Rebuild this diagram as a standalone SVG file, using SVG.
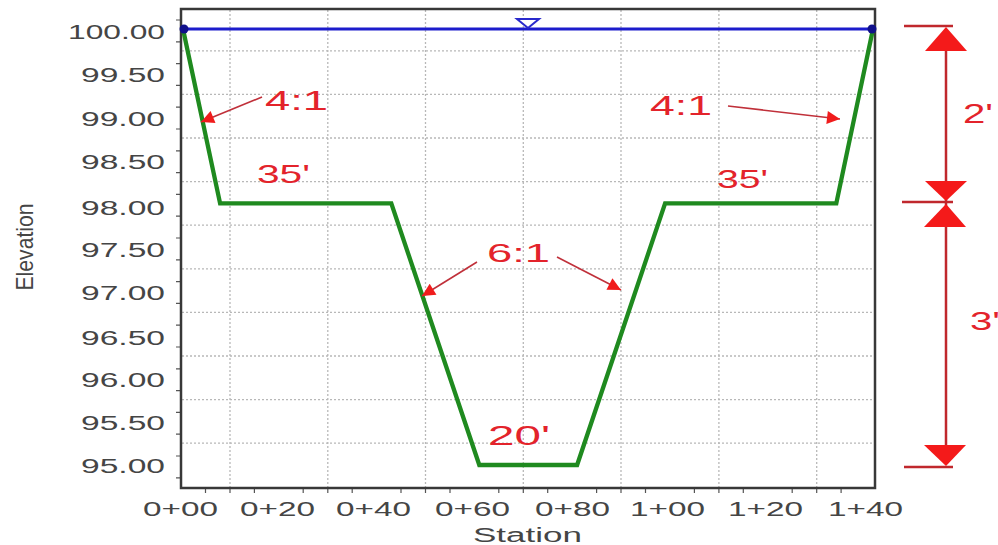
<svg xmlns="http://www.w3.org/2000/svg" width="998" height="545" viewBox="0 0 998 545">
<style>
.grid{stroke:#b8b8b8;stroke-width:1.3;stroke-dasharray:2,2;fill:none}
.tick{stroke:#555;stroke-width:1.2}
.lab{font-family:"Liberation Sans",Arial,sans-serif;font-size:19.5px;fill:#454545}
.red{font-family:"Liberation Sans",Arial,sans-serif;fill:#e3232b}
.arr{stroke:#c0303a;stroke-width:1.6;fill:none;marker-end:url(#ah)}
.dim{stroke:#c0282d;stroke-width:2.5;fill:none}
.tri{fill:#f41a1a}
</style>
<defs>
<marker id="ah" viewBox="0 0 10 10" refX="10" refY="5" markerWidth="20" markerHeight="13" markerUnits="userSpaceOnUse" orient="auto">
<path d="M0,0 L10,5 L0,10 z" fill="#f01c1c"/>
</marker>
</defs>
<rect width="998" height="545" fill="#ffffff"/>
<g id="grid">
<path class="grid" d="M230,10V487M327.8,10V487M425.5,10V487M523.3,10V487M621,10V487M718.9,10V487M816.7,10V487"/>
<path class="grid" d="M182,50.8H874M182,94.4H874M182,138H874M182,181.6H874M182,225.2H874M182,268.8H874M182,312.4H874M182,356H874M182,399.6H874M182,443.2H874"/>
</g>
<g id="ticks">
<path class="tick" d="M176,20H181M176,41.8H181M176,63.6H181M176,85.4H181M176,107.2H181M176,129H181M176,150.8H181M176,172.6H181M176,194.4H181M176,216.2H181M176,238H181M176,259.8H181M176,281.6H181M176,303.4H181M176,325.2H181M176,347H181M176,368.8H181M176,390.6H181M176,412.4H181M176,434.2H181M176,456H181M176,477.8H181"/>
<path class="tick" d="M205.5,488V493M230,488V493M254.4,488V493M303.2,488V493M327.8,488V493M352.2,488V493M401,488V493M425.5,488V493M450,488V493M498.8,488V493M523.3,488V493M547.7,488V493M596.6,488V493M621,488V493M645.5,488V493M694.4,488V493M718.9,488V493M743.3,488V493M792.2,488V493M816.7,488V493M841.1,488V493"/>
</g>
<g id="frame">
<rect x="181" y="9" width="694" height="479" fill="none" stroke="#383838" stroke-width="2.5"/>
</g>
<g id="ylabels" class="lab">
<text x="68" y="39" textLength="97" lengthAdjust="spacingAndGlyphs">100.00</text>
<text x="81" y="82" textLength="84" lengthAdjust="spacingAndGlyphs">99.50</text>
<text x="81" y="126" textLength="84" lengthAdjust="spacingAndGlyphs">99.00</text>
<text x="81" y="169" textLength="84" lengthAdjust="spacingAndGlyphs">98.50</text>
<text x="81" y="215" textLength="84" lengthAdjust="spacingAndGlyphs">98.00</text>
<text x="81" y="257" textLength="84" lengthAdjust="spacingAndGlyphs">97.50</text>
<text x="81" y="300" textLength="84" lengthAdjust="spacingAndGlyphs">97.00</text>
<text x="81" y="345" textLength="84" lengthAdjust="spacingAndGlyphs">96.50</text>
<text x="81" y="387" textLength="84" lengthAdjust="spacingAndGlyphs">96.00</text>
<text x="81" y="430" textLength="84" lengthAdjust="spacingAndGlyphs">95.50</text>
<text x="81" y="473" textLength="84" lengthAdjust="spacingAndGlyphs">95.00</text>
</g>
<g id="xlabels" class="lab">
<text x="143" y="516" textLength="75" lengthAdjust="spacingAndGlyphs">0+00</text>
<text x="240" y="516" textLength="75" lengthAdjust="spacingAndGlyphs">0+20</text>
<text x="336" y="516" textLength="75" lengthAdjust="spacingAndGlyphs">0+40</text>
<text x="435" y="516" textLength="75" lengthAdjust="spacingAndGlyphs">0+60</text>
<text x="535" y="516" textLength="75" lengthAdjust="spacingAndGlyphs">0+80</text>
<text x="630" y="516" textLength="75" lengthAdjust="spacingAndGlyphs">1+00</text>
<text x="728" y="516" textLength="75" lengthAdjust="spacingAndGlyphs">1+20</text>
<text x="828" y="516" textLength="75" lengthAdjust="spacingAndGlyphs">1+40</text>
</g>
<g id="axis-titles" class="lab">
<text x="473" y="542" font-size="20" textLength="109" lengthAdjust="spacingAndGlyphs">Station</text>
<text transform="translate(33,247) scale(1.45,1) rotate(-90)" x="0" y="0" font-size="16" text-anchor="middle" textLength="87" lengthAdjust="spacingAndGlyphs">Elevation</text>
</g>
<g id="ground">
<polyline points="183,29 220.1,203.4 391.3,203.4 479.3,465 577.1,465 665.1,203.4 836.3,203.4 873,29" fill="none" stroke="#1f8a1f" stroke-width="4.3" stroke-linejoin="miter"/>
</g>
<g id="water">
<line x1="183" y1="29" x2="873" y2="29" stroke="#1c1ccc" stroke-width="3"/>
<circle cx="184" cy="29" r="4.5" fill="#10108a"/>
<circle cx="872" cy="29" r="4.5" fill="#10108a"/>
<polygon points="517,19 539,19 528,28" fill="#ffffff" stroke="#2a2acc" stroke-width="2"/>
</g>
<g id="connectors">
<line class="arr" x1="262" y1="97" x2="201" y2="122"/>
<line class="arr" x1="728" y1="106" x2="840" y2="119"/>
<line class="arr" x1="477" y1="262" x2="422" y2="296"/>
<line class="arr" x1="557" y1="257" x2="621" y2="290"/>
</g>
<g id="slope-labels" class="red">
<text x="265" y="110" font-size="28" textLength="63" lengthAdjust="spacingAndGlyphs">4:1</text>
<text x="650" y="115" font-size="28" textLength="62" lengthAdjust="spacingAndGlyphs">4:1</text>
<text x="487" y="262" font-size="25" textLength="63" lengthAdjust="spacingAndGlyphs">6:1</text>
</g>
<g id="width-labels" class="red">
<text x="257" y="183" font-size="25" textLength="53" lengthAdjust="spacingAndGlyphs">35'</text>
<text x="717" y="188" font-size="26" textLength="51" lengthAdjust="spacingAndGlyphs">35'</text>
<text x="488" y="445" font-size="28" textLength="62" lengthAdjust="spacingAndGlyphs">20'</text>
</g>
<g id="dimension">
<line class="dim" x1="946" y1="40" x2="946" y2="455"/>
<line class="dim" x1="904" y1="26" x2="953" y2="26"/>
<line class="dim" x1="902" y1="202" x2="953" y2="202"/>
<line class="dim" x1="904" y1="467" x2="953" y2="467"/>
<polygon class="tri" points="946,27 925,51 967,51"/>
<polygon class="tri" points="925,181 967,181 946,201"/>
<polygon class="tri" points="946,204 924,227 966,227"/>
<polygon class="tri" points="924,445 966,445 946,466"/>
<text class="red" x="963" y="123" font-size="28" textLength="30" lengthAdjust="spacingAndGlyphs">2'</text>
<text class="red" x="970" y="330" font-size="26" textLength="30" lengthAdjust="spacingAndGlyphs">3'</text>
</g>
</svg>
